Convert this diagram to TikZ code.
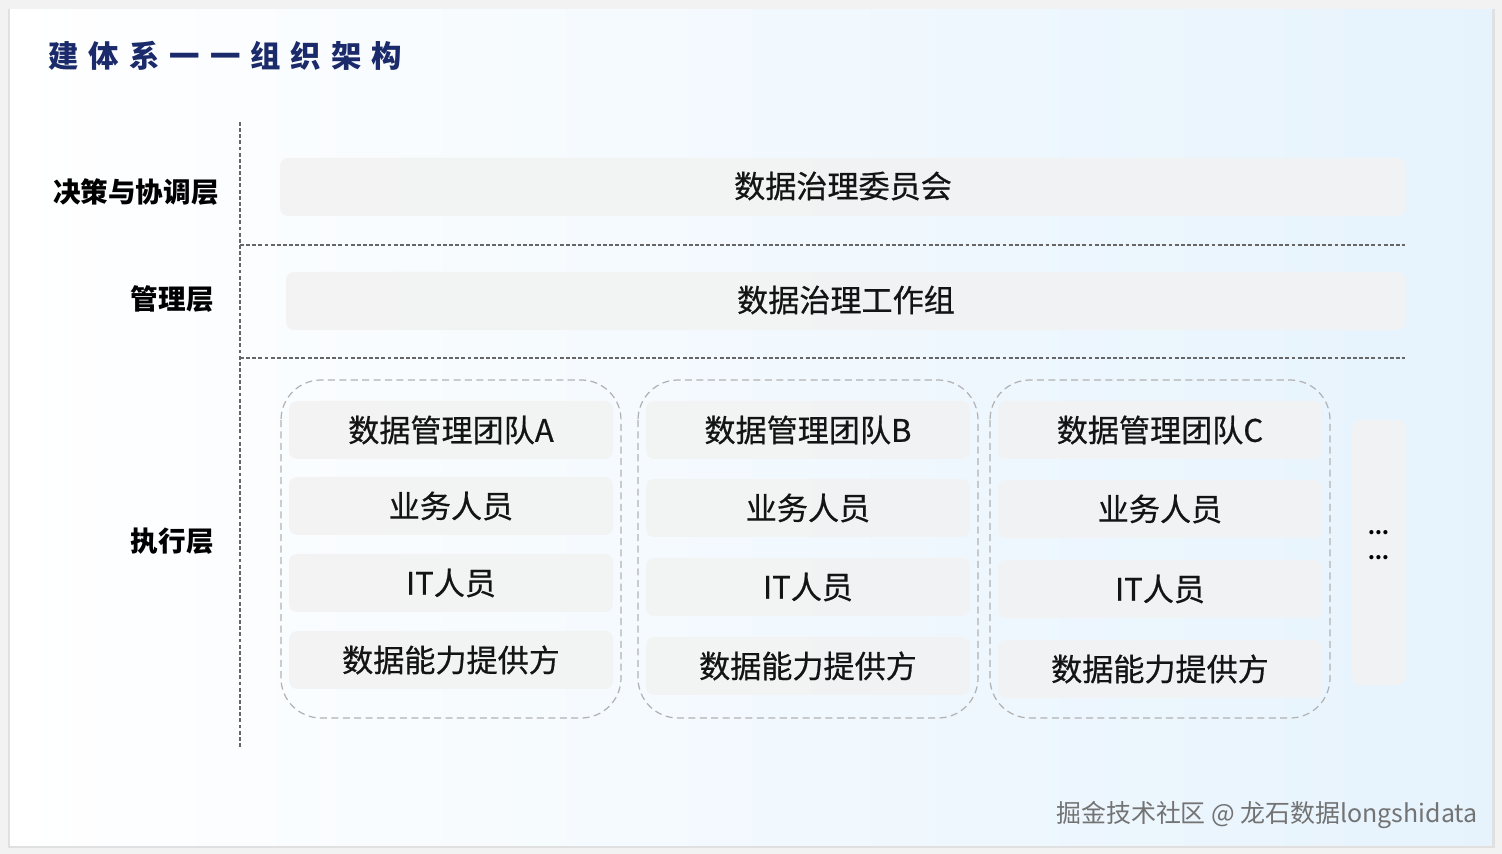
\documentclass[tikz,border=0pt]{standalone}
\usepackage{fontspec}
\setmainfont{Noto Sans CJK SC}
\usepackage{tikz}
\definecolor{titleblue}{HTML}{1B2A6B}
\definecolor{cardblue}{HTML}{E6F3FD}
\definecolor{padgrey}{HTML}{F2F2F2}

\begin{document}
\begin{tikzpicture}[x=0.02cm,y=-0.02cm,
  layer/.style={anchor=east,inner sep=0pt,font=\bfseries\fontsize{15.7}{18}\selectfont},
  tag/.style={text=black!92,font=\fontsize{17.7}{20}\selectfont\addfontfeature{FakeBold=0.6}},
  pad/.style={fill=padgrey,fill opacity=0.85,rounded corners=0.16cm},
  team/.style={draw=black!30,line width=0.7pt,dash pattern=on 4pt off 2.5pt,rounded corners=0.8cm},
  sep/.style={draw=black!60,line width=0.6pt,dash pattern=on 2.2pt off 1.3pt}]
  \useasboundingbox (0,0) rectangle (1502,854);
  \fill[black!5] (0,0) rectangle (1502,854);
  \fill[black!12] (8,9) rectangle (1495,848);
  \shade[left color=white,right color=cardblue] (10,10) rectangle (1492,845);
  % title
  \node[anchor=west,inner sep=0pt,text=titleblue,font=\bfseries\fontsize{17.3}{20}\selectfont\addfontfeature{LetterSpace=33}] (title) at (48,56) {建体系一一组织架构};
  % layers
  \draw[sep] (240,122) -- (240,748);
  \draw[sep] (240,245) -- (1405,245);
  \draw[sep] (240,358) -- (1405,358);
  \node[layer] (jc) at (219,192) {决策与协调层};
  \node[layer] (gl) at (214,299) {管理层};
  \node[layer] (zx) at (214,541) {执行层};
  \fill[pad] (280,158) rectangle (1405,216);
  \node[tag] (wyh) at (843,186) {数据治理委员会};
  \fill[pad] (286,272) rectangle (1405,330);
  \node[tag] (gzz) at (846,300) {数据治理工作组};
  % teams
  \foreach \x/\t/\d in {281/A/0,638/B/2,990/C/3}{
    \draw[team] (\x,380) rectangle ++(340,338);
    \foreach \y/\s [count=\i] in {430/数据管理团队\t,506/业务人员,583/IT人员,660/数据能力提供方}{
      \fill[pad] (\x+8,\y-29+\d*\i-\d) rectangle ++(324,58);
      \node[tag] (t\t\i) at (\x+170,\y+\d*\i-\d) {\s};
    }
  }
  \fill[pad] (1352,420) rectangle (1406,685);
  \node[font=\bfseries\fontsize{11}{12}\selectfont] (m1) at (1379,533) {...};
  \node[font=\bfseries\fontsize{11}{12}\selectfont] (m2) at (1379,558) {...};
  \node[anchor=east,inner sep=0pt,text=black!55,font=\fontsize{14.2}{16}\selectfont] (wm) at (1478,815) {掘金技术社区 @ 龙石数据longshidata};
\end{tikzpicture}
\end{document}
